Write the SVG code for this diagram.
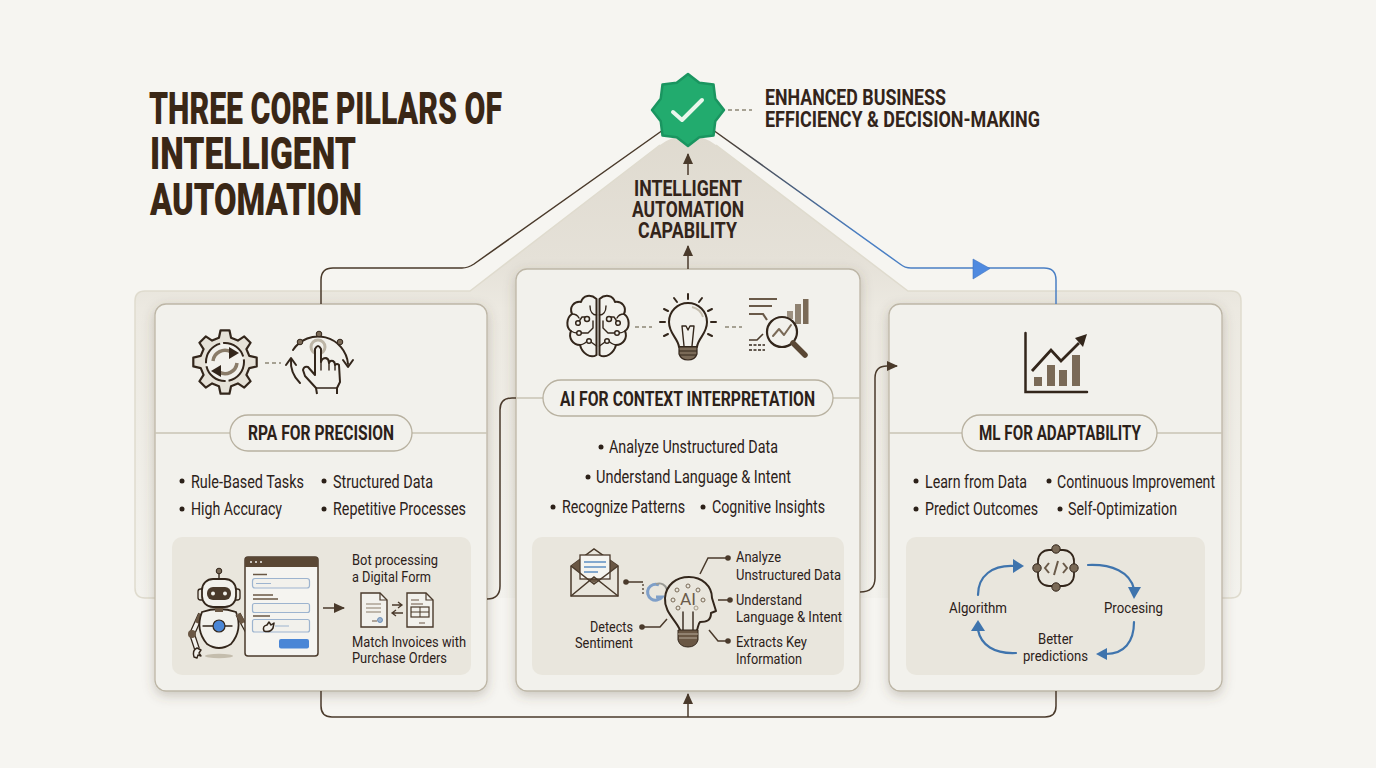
<svg xmlns="http://www.w3.org/2000/svg" width="1376" height="768" viewBox="0 0 1376 768">
<defs>
<style>
text{font-family:Roboto,"Liberation Sans",sans-serif;fill:#2c2119}
.title{font-size:45px;font-weight:900;fill:#3a2716}
.head{font-size:21.5px;font-weight:700;fill:#33241a}
.pill-t{font-size:19.500px;font-weight:700;fill:#2c2119}
.b{font-size:17.500px}
.s{font-size:15.500px}
.card{fill:#f2f1ec;stroke:#bdb6a6;stroke-width:1.3;filter:url(#sh)}
.panel{fill:#e9e6dd}
.pill{fill:#f2f1ec;stroke:#b8b1a0;stroke-width:1.3}
.div{stroke:#c9c3b4;stroke-width:1.3;fill:none}
.dot{fill:#2c2119}
.con{fill:none;stroke:#4a3a2b;stroke-width:1.5}
.ic{fill:none;stroke:#33261b;stroke-width:2;stroke-linecap:round;stroke-linejoin:round}
.ic1{fill:none;stroke:#33261b;stroke-width:1.4;stroke-linecap:round;stroke-linejoin:round}
.dash{fill:none;stroke:#8d8676;stroke-width:1.3;stroke-dasharray:4 3}
.bl{fill:none;stroke:#3f74ad;stroke-width:2.2;stroke-linecap:round}
.blh{fill:#3f74ad}
.br{fill:#7a6a57}
.nd{fill:#f2f1ec;stroke:#33261b;stroke-width:1.5}
</style>
<filter id="sh" x="-10%" y="-10%" width="120%" height="120%"><feDropShadow dx="0" dy="4" stdDeviation="6" flood-color="#5a4e3a" flood-opacity="0.28"/></filter>
<linearGradient id="plat" gradientUnits="userSpaceOnUse" x1="0" y1="130" x2="0" y2="600"><stop offset="0" stop-color="#dfdacf"/><stop offset="0.28" stop-color="#e5e1d8"/><stop offset="0.38" stop-color="#ecE9e1"/><stop offset="1" stop-color="#f3f2ed"/></linearGradient>
<linearGradient id="blueline" gradientUnits="userSpaceOnUse" x1="716" y1="0" x2="860" y2="0"><stop offset="0" stop-color="#4a3a2b"/><stop offset="1" stop-color="#4a7fc4"/></linearGradient>
<marker id="ah" markerWidth="12" markerHeight="14" refX="10" refY="5" orient="auto" markerUnits="userSpaceOnUse"><path d="M0,0L11,5L0,10Z" fill="#4a3a2b"/></marker>
</defs>
<rect width="1376" height="768" fill="#f6f5f1"/>
<g id="platform">
<path d="M145,291H470L660,145Q688,125 716,145L908,291H1231Q1241,291 1241,301V588Q1241,598 1231,598H145Q135,598 135,588V301Q135,291 145,291Z" fill="url(#plat)"/>
<path d="M155,598H145Q135,598 135,588V301Q135,291 145,291H470L660,145M716,145L908,291H1231Q1241,291 1241,301V588Q1241,598 1231,598H1222" fill="none" stroke="#dfdbce" stroke-width="1.500"/>
</g>
<g id="title">
<text class="title"><tspan x="149" y="123.500" textLength="353" lengthAdjust="spacingAndGlyphs">THREE CORE PILLARS OF</tspan><tspan x="150" y="169" textLength="206" lengthAdjust="spacingAndGlyphs">INTELLIGENT</tspan><tspan x="150" y="215" textLength="212" lengthAdjust="spacingAndGlyphs">AUTOMATION</tspan></text>
</g>
<g id="card-rpa">
<rect class="card" x="155" y="304" width="332" height="387" rx="11"/>
<path class="div" d="M155,433H230M412,433H487"/>
<rect class="pill" x="230" y="415" width="182" height="36" rx="18"/>
<text class="pill-t" x="248" y="440" textLength="146" lengthAdjust="spacingAndGlyphs">RPA FOR PRECISION</text>
<g transform="translate(225,362)">
<path d="M-6.050,-24.260L-4.450,-31.690L4.450,-31.690L6.050,-24.260L12.880,-21.430L19.260,-25.550L25.550,-19.260L21.430,-12.880L24.260,-6.050L31.690,-4.450L31.690,4.450L24.260,6.050L21.430,12.880L25.550,19.260L19.260,25.550L12.880,21.430L6.050,24.260L4.450,31.690L-4.450,31.690L-6.050,24.260L-12.880,21.430L-19.260,25.550L-25.550,19.260L-21.430,12.880L-24.260,6.050L-31.690,4.450L-31.690,-4.450L-24.260,-6.050L-21.430,-12.880L-25.550,-19.260L-19.260,-25.550L-12.880,-21.430Z" fill="#e6e2d8" stroke="#33261b" stroke-width="2.200" stroke-linejoin="round"/>
<circle r="19" fill="#f2f1ec" stroke="#33261b" stroke-width="2" stroke-dasharray="26 3"/>
<path d="M-12,-1A12,12 0 0 1 6,-10" fill="none" stroke="#8a7c69" stroke-width="3.500"/>
<path d="M4,-15L14,-9L4,-3Z" fill="#33261b"/>
<path d="M12,1A12,12 0 0 1 -6,10" fill="none" stroke="#8a7c69" stroke-width="3.500"/>
<path d="M-4,15L-14,9L-4,3Z" fill="#33261b"/>
</g>
<path class="dash" d="M265,363H281"/>
<g>
<path class="ic" d="M293,350A30,30 0 0 1 348,364"/>
<path class="ic" d="M343,360L348,367L353,360"/>
<path class="ic" d="M300,383A30,30 0 0 1 291,359"/>
<path class="ic" d="M286,365L291,358L296,365"/>
<circle cx="300" cy="342" r="2.800" fill="#7a6a57" stroke="#33261b"/>
<circle cx="319" cy="334" r="2.800" fill="#7a6a57" stroke="#33261b"/>
<circle cx="340" cy="342" r="2.800" fill="#7a6a57" stroke="#33261b"/>
<circle cx="318" cy="347" r="7" fill="none" stroke="#bdb5a6" stroke-width="3"/>
<path d="M317,394L316,388L305,376L303,370Q304,366 308,367L315,375V349Q318,343 321,349V362Q322,358 326,358Q329,359 329,363Q330,360 333,361Q335,362 335,365Q337,363 339,365L340,382L337,388V394" fill="#f2f1ec" stroke="#33261b" stroke-width="2" stroke-linejoin="round"/>
<path class="ic1" d="M316,388H337M321,362V370M329,363V370M335,365V370"/>
</g>
<g>
<circle class="dot" cx="182" cy="481" r="2.500"/><text class="b" x="191" y="488" textLength="113" lengthAdjust="spacingAndGlyphs">Rule-Based Tasks</text>
<circle class="dot" cx="324" cy="481" r="2.500"/><text class="b" x="333" y="488" textLength="100" lengthAdjust="spacingAndGlyphs">Structured Data</text>
<circle class="dot" cx="182" cy="509" r="2.500"/><text class="b" x="191" y="515" textLength="91" lengthAdjust="spacingAndGlyphs">High Accuracy</text>
<circle class="dot" cx="324" cy="509" r="2.500"/><text class="b" x="333" y="515" textLength="133" lengthAdjust="spacingAndGlyphs">Repetitive Processes</text>
</g>
<rect class="panel" x="172" y="537" width="299" height="138" rx="10"/>
<g id="robot">
<ellipse cx="219" cy="656" rx="14" ry="2.200" fill="#c4bdad"/>
<path d="M201,614L192,634L197,649" fill="none" stroke="#33261b" stroke-width="6" stroke-linejoin="round"/>
<path d="M201,614L192,634L197,649" fill="none" stroke="#f2f1ec" stroke-width="3.500" stroke-linejoin="round"/>
<path d="M201,614L197,623" stroke="#6a5744" stroke-width="5"/>
<path d="M202,612Q219,606 236,612Q243,630 231,644Q219,652 207,644Q195,630 202,612Z" fill="#f2f1ec" stroke="#33261b" stroke-width="1.800"/>
<path class="ic1" d="M203,626H232"/>
<circle cx="219" cy="626" r="6" fill="#4a86d6" stroke="#33261b" stroke-width="1.200"/>
<path d="M238,614L250,636L267,629" fill="none" stroke="#33261b" stroke-width="5.500" stroke-linejoin="round"/>
<path d="M238,614L250,636L267,629" fill="none" stroke="#f2f1ec" stroke-width="3" stroke-linejoin="round"/>
<path d="M238,614L243,623" stroke="#6a5744" stroke-width="5"/>
<circle cx="250" cy="636" r="3.500" fill="#6a5744"/>
<circle cx="192" cy="634" r="4" fill="#6a5744"/>
<path d="M194,657Q192,650 197,648L201,650L199,653L201,656L198,655L197,658Z" fill="#f2f1ec" stroke="#33261b" stroke-width="1.400" stroke-linejoin="round"/>
<rect x="215" y="607" width="8" height="5" fill="#6a5744"/>
<path class="ic1" d="M219,579V574"/><circle cx="219" cy="571" r="2.800" fill="#7a6a57" stroke="#33261b"/>
<rect x="198" y="589" width="6" height="11" rx="2.500" fill="#e9e6dd" stroke="#33261b" stroke-width="1.300"/>
<rect x="234" y="589" width="6" height="11" rx="2.500" fill="#e9e6dd" stroke="#33261b" stroke-width="1.300"/>
<rect x="202" y="579" width="34" height="28" rx="11" fill="#f2f1ec" stroke="#33261b" stroke-width="1.800"/>
<rect x="207" y="587" width="24" height="13" rx="6" fill="#4a3a2b"/>
<circle cx="213" cy="593.500" r="2" fill="#f2f1ec"/><circle cx="225" cy="593.500" r="2" fill="#f2f1ec"/>
</g>
<g id="form">
<rect x="245" y="557" width="73" height="99" rx="3" fill="#f5f4f0" stroke="#4a3a2b" stroke-width="1.500"/>
<path d="M245,567V560Q245,557 248,557H315Q318,557 318,560V567Z" fill="#5a4734"/>
<circle cx="251" cy="562" r="1" fill="#f2f1ec"/><circle cx="256" cy="562" r="1" fill="#f2f1ec"/><circle cx="261" cy="562" r="1" fill="#f2f1ec"/>
<path d="M253,574.500H267M253,595H273M253,599H278M253,616H270" stroke="#6a5744" stroke-width="1.300" fill="none"/>
<rect x="252.500" y="578.500" width="57" height="9.500" rx="2.500" fill="#f2f1ec" stroke="#9db4cf" stroke-width="1.200"/>
<path d="M256,583.500H271" stroke="#9db4cf" stroke-width="1"/>
<rect x="252.500" y="603.500" width="57" height="9" rx="2" fill="#f2f1ec" stroke="#9db4cf" stroke-width="1.200"/>
<rect x="252.500" y="619.500" width="57" height="12.500" rx="2" fill="#f2f1ec" stroke="#9db4cf" stroke-width="1.200"/>
<path d="M275,626H289" stroke="#9db4cf" stroke-width="1"/>
<rect x="279" y="639" width="30" height="9.500" rx="2" fill="#4a86d6"/>
<path d="M264,631Q262,626 267,625L269,622L271,625L274,623L273,628Q270,633 264,631Z" fill="#f2f1ec" stroke="#33261b" stroke-width="1.500" stroke-linejoin="round"/>
</g>
<path class="con" d="M323,608H344" marker-end="url(#ah)"/>
<g>
<path d="M361,593H380L387,600V627H361Z" fill="#f2f1ec" stroke="#4a3a2b" stroke-width="1.400"/>
<path d="M380,593V600H387" fill="none" stroke="#4a3a2b" stroke-width="1.200"/>
<path d="M366,604H381M366,608H381M366,612H381" stroke="#8a7c69" stroke-width="1.200"/>
<path d="M372,621H377" stroke="#6a5744" stroke-width="1"/><circle cx="380" cy="620" r="2.500" fill="#9db4cf" stroke="#5a82b0" stroke-width=".8"/>
<path d="M407,593H426L433,600V627H407Z" fill="#f2f1ec" stroke="#4a3a2b" stroke-width="1.400"/>
<path d="M426,593V600H433" fill="none" stroke="#4a3a2b" stroke-width="1.200"/>
<path d="M411,600H419M411,604H423M425,623H419" stroke="#6a5744" stroke-width="1.200"/>
<rect x="411" y="607" width="18" height="10" fill="none" stroke="#4a3a2b" stroke-width="1.200"/>
<path d="M411,612H429M420,607V617" stroke="#4a3a2b" stroke-width="1"/>
<path d="M392,605H401M398,602L402,605L398,608M403,613H393M396,610L392,613L396,616" fill="none" stroke="#4a3a2b" stroke-width="1.300"/>
</g>
<text class="s"><tspan x="352" y="565" textLength="86" lengthAdjust="spacingAndGlyphs">Bot processing</tspan><tspan x="352" y="582" textLength="79" lengthAdjust="spacingAndGlyphs">a Digital Form</tspan></text>
<text class="s"><tspan x="352" y="647" textLength="114" lengthAdjust="spacingAndGlyphs">Match Invoices with</tspan><tspan x="352" y="663" textLength="95" lengthAdjust="spacingAndGlyphs">Purchase Orders</tspan></text>
</g>
<g id="card-ai">
<rect class="card" x="516" y="269" width="344" height="422" rx="11"/>
<path class="div" d="M516,398H543M833,398H860"/>
<rect class="pill" x="543" y="380" width="290" height="36" rx="18"/>
<text class="pill-t" x="560" y="406" textLength="255" lengthAdjust="spacingAndGlyphs">AI FOR CONTEXT INTERPRETATION</text>
<g id="brain" transform="translate(598,327)">
<path class="ic" d="M-1.500,-28C-7,-33 -15,-32 -17,-25C-24,-26 -29,-20 -26,-13C-32,-9 -32,1 -27,4C-30,11 -25,18 -18,18C-16,26 -8,32 -1.500,28V-28"/>
<path class="ic1" d="M-1.500,-12C-5,-12 -8,-15 -8,-21M-26,-13C-22,-13 -20,-11 -19,-9M-20,-4L-16,-10H-11M-19,6H-10L-5,1V-6M-27,4C-24,6 -22,6 -21,6M-18,18C-14,17 -12,16 -11,14M-7,15L-1.500,19"/>
<circle class="nd" cx="-11" cy="-8" r="2.500"/><circle class="nd" cx="-20" cy="-4" r="2.300"/><circle class="nd" cx="-19" cy="6" r="2.300"/><circle class="nd" cx="-9" cy="14" r="2.300"/>
<g transform="scale(-1,1)">
<path class="ic" d="M-1.500,-28C-7,-33 -15,-32 -17,-25C-24,-26 -29,-20 -26,-13C-32,-9 -32,1 -27,4C-30,11 -25,18 -18,18C-16,26 -8,32 -1.500,28V-28"/>
<path class="ic1" d="M-1.500,-12C-5,-12 -8,-15 -8,-21M-26,-13C-22,-13 -20,-11 -19,-9M-20,-4L-16,-10H-11M-19,6H-10L-5,1V-6M-27,4C-24,6 -22,6 -21,6M-18,18C-14,17 -12,16 -11,14M-7,15L-1.500,19"/>
<circle class="nd" cx="-11" cy="-8" r="2.500"/><circle class="nd" cx="-20" cy="-4" r="2.300"/><circle class="nd" cx="-19" cy="6" r="2.300"/><circle class="nd" cx="-9" cy="14" r="2.300"/>
</g>
</g>
<path class="dash" d="M635,327H652M725,327H742"/>
<g id="bulb">
<path class="ic" d="M679,347C678,338 669,334 669,322A19,19 0 0 1 707,322C707,334 698,338 697,347Z"/>
<path class="ic1" d="M684,346L682,326H686L688,330L690,326H694L692,346" stroke-width="1.800"/>
<path d="M692,307A15,15 0 0 1 703,317" fill="none" stroke="#c4bdad" stroke-width="1.800"/>
<path d="M679,347H697V354Q695,360 688,360Q681,360 679,354Z" fill="#7a6a57" stroke="#33261b" stroke-width="1.200"/>
<path d="M679,351H697M680,355H696" stroke="#33261b" stroke-width="1"/>
<path class="ic" d="M688,294V299M674,298L677,302M702,298L699,302M664,309L668,311M712,309L708,311M660,322H665M711,322H716M664,336L668,334M712,336L708,334"/>
</g>
<g id="analysis">
<path d="M749,299H777M749,306H772M749,314H763L767,320" fill="none" stroke="#6a5a49" stroke-width="2.200"/>
<path d="M749,340H757L763,334" fill="none" stroke="#4a3a2b" stroke-width="1.600"/>
<path d="M749,345H765M749,350H765" fill="none" stroke="#33261b" stroke-width="1.500" stroke-dasharray="3 1.500"/>
<rect x="787" y="311" width="6" height="8" fill="#9d9181"/>
<rect x="795" y="304" width="6" height="20" fill="#8f8271"/>
<rect x="803" y="299" width="5.500" height="25" fill="#7a6a57"/>
<circle cx="782" cy="332" r="15" fill="#f2f1ec" stroke="#33261b" stroke-width="2.200"/>
<path class="ic" d="M773,336L779,329L784,335L791,325" style="stroke:#7a6a57"/>
<path d="M793,343L805,355" stroke="#5a4734" stroke-width="5.500" stroke-linecap="round"/>
</g>
<g>
<circle class="dot" cx="601" cy="447" r="2.500"/><text class="b" x="609" y="453" textLength="169" lengthAdjust="spacingAndGlyphs">Analyze Unstructured Data</text>
<circle class="dot" cx="588" cy="477" r="2.500"/><text class="b" x="596" y="483" textLength="195" lengthAdjust="spacingAndGlyphs">Understand Language &amp; Intent</text>
<circle class="dot" cx="553" cy="507" r="2.500"/><text class="b" x="562" y="513" textLength="123" lengthAdjust="spacingAndGlyphs">Recognize Patterns</text>
<circle class="dot" cx="703" cy="507" r="2.500"/><text class="b" x="712" y="513" textLength="113" lengthAdjust="spacingAndGlyphs">Cognitive Insights</text>
</g>
<rect class="panel" x="532" y="537" width="312" height="138" rx="10"/>
<g id="envelope">
<path d="M571,566L594,549L618,566V596H571Z" fill="#e9e6dd" stroke="#4a3a2b" stroke-width="1.500"/>
<path d="M571,566L583,557H606L618,566L594,583Z" fill="#6a5744"/>
<rect x="580" y="555" width="30" height="24" fill="#f5f4f0" stroke="#4a3a2b" stroke-width="1.300"/>
<path d="M584,562H606M584,567H606M584,572H598" stroke="#5f8fc2" stroke-width="1.500"/>
<path d="M571,596L594,577L618,596M571,566L594,584L618,566" fill="none" stroke="#4a3a2b" stroke-width="1.500"/>
</g>
<path d="M659,585A8,8 0 1 0 662,597H656" fill="none" stroke="#7f9fc8" stroke-width="3"/>
<path d="M656,584A8,8 0 0 1 667,590" fill="none" stroke="#9a9a94" stroke-width="1.800"/>
<g id="ai-head">
<path class="ic" d="M680,630C676,620 664,612 665,598C666,585 676,577 689,577C702,577 712,586 712,598L716,611L711,613C711,621 706,622 700,622C698,624 698,628 697,630"/>
<path class="ic1" d="M683,630V612M693,630V612" stroke-width="1.800"/>
<path d="M678,630H698V640Q696,647 688,647Q680,647 678,640Z" fill="#6a5744" stroke="#33261b"/>
<path d="M678,634H698M679,638H697" stroke="#b8ad9c" stroke-width="1"/>
<text x="680" y="605" font-size="16" textLength="16" lengthAdjust="spacingAndGlyphs" style="fill:#6a5a49">AI</text>
<circle cx="677" cy="590" r="2" fill="none" stroke="#7a6a57"/><circle cx="688" cy="586" r="2" fill="none" stroke="#7a6a57"/><circle cx="698" cy="590" r="2" fill="none" stroke="#7a6a57"/><circle cx="703" cy="600" r="2" fill="none" stroke="#7a6a57"/><circle cx="678" cy="608" r="2" fill="none" stroke="#7a6a57"/><circle cx="696" cy="608" r="2" fill="none" stroke="#a59a89"/><circle cx="673" cy="600" r="2" fill="none" stroke="#7a6a57"/>
</g>
<g>
<path class="con" d="M700,574L708,558H727M718,600H730M709,630L718,641H728M642,627H660L667,619M626,582H643"/>
<path d="M643,584V596" stroke="#4a3a2b" stroke-width="1.300" stroke-dasharray="2 2"/>
<circle cx="728" cy="558" r="2.800" fill="#4a3a2b"/><circle cx="730" cy="600" r="2.800" fill="#4a3a2b"/><circle cx="728" cy="641" r="2.800" fill="#4a3a2b"/><circle cx="642" cy="627" r="2.800" fill="#4a3a2b"/><circle cx="626" cy="582" r="2.800" fill="#4a3a2b"/>
</g>
<text class="s"><tspan x="736" y="562" textLength="45" lengthAdjust="spacingAndGlyphs">Analyze</tspan><tspan x="736" y="580" textLength="105" lengthAdjust="spacingAndGlyphs">Unstructured Data</tspan></text>
<text class="s"><tspan x="736" y="605" textLength="66" lengthAdjust="spacingAndGlyphs">Understand</tspan><tspan x="736" y="622" textLength="106" lengthAdjust="spacingAndGlyphs">Language &amp; Intent</tspan></text>
<text class="s"><tspan x="736" y="647" textLength="71" lengthAdjust="spacingAndGlyphs">Extracts Key</tspan><tspan x="736" y="664" textLength="66" lengthAdjust="spacingAndGlyphs">Information</tspan></text>
<text class="s"><tspan x="590" y="632" textLength="43" lengthAdjust="spacingAndGlyphs">Detects</tspan><tspan x="575" y="648" textLength="58" lengthAdjust="spacingAndGlyphs">Sentiment</tspan></text>
</g>
<g id="card-ml">
<rect class="card" x="889" y="304" width="333" height="387" rx="11"/>
<path class="div" d="M889,433H962M1157,433H1222"/>
<rect class="pill" x="962" y="415" width="195" height="36" rx="18"/>
<text class="pill-t" x="979" y="440" textLength="162" lengthAdjust="spacingAndGlyphs">ML FOR ADAPTABILITY</text>
<g id="growth">
<rect class="br" x="1034" y="377" width="8" height="9"/>
<rect class="br" x="1047" y="365" width="8" height="21"/>
<rect class="br" x="1059" y="370" width="8" height="16"/>
<rect class="br" x="1072" y="355" width="8" height="31"/>
<path d="M1025.500,333V392H1087" fill="none" stroke="#33261b" stroke-width="2.500" stroke-linecap="round"/>
<path d="M1032,371L1051,350L1061,361L1079,343" fill="none" stroke="#33261b" stroke-width="2.800"/>
<path d="M1087,334L1075,338L1083,347Z" fill="#33261b"/>
</g>
<g>
<circle class="dot" cx="916" cy="481" r="2.500"/><text class="b" x="925" y="488" textLength="102" lengthAdjust="spacingAndGlyphs">Learn from Data</text>
<circle class="dot" cx="1049" cy="481" r="2.500"/><text class="b" x="1057" y="488" textLength="158" lengthAdjust="spacingAndGlyphs">Continuous Improvement</text>
<circle class="dot" cx="916" cy="509" r="2.500"/><text class="b" x="925" y="515" textLength="113" lengthAdjust="spacingAndGlyphs">Predict Outcomes</text>
<circle class="dot" cx="1060" cy="509" r="2.500"/><text class="b" x="1068" y="515" textLength="109" lengthAdjust="spacingAndGlyphs">Self-Optimization</text>
</g>
<rect class="panel" x="906" y="537" width="299" height="138" rx="10"/>
<g id="code">
<rect x="1038" y="550" width="36" height="36" rx="11" fill="none" stroke="#33261b" stroke-width="1.800"/>
<circle cx="1056" cy="549" r="4.200" fill="#7a6a57" stroke="#33261b"/><circle cx="1037" cy="568" r="4.200" fill="#7a6a57" stroke="#33261b"/><circle cx="1074" cy="568" r="4.200" fill="#7a6a57" stroke="#33261b"/><circle cx="1056" cy="587" r="4.200" fill="#7a6a57" stroke="#33261b"/>
<path d="M1049,563L1045,568L1049,573M1063,563L1067,568L1063,573M1058,561L1054,575" fill="none" stroke="#6a5a49" stroke-width="2"/>
</g>
<g id="cycle">
<path class="bl" d="M978,595C978,576 992,565 1014,566"/><path class="blh" d="M1024,566L1013,559V573Z"/>
<path class="bl" d="M1088,565C1112,564 1130,572 1134,589"/><path class="blh" d="M1134,599L1141,587H1128Z"/>
<path class="bl" d="M1134,622C1134,642 1124,654 1106,654"/><path class="blh" d="M1096,654L1107,648V660Z"/>
<path class="bl" d="M1016,653C994,654 981,645 978,630"/><path class="blh" d="M978,620L971,631H985Z"/>
</g>
<text class="s" x="949" y="613" textLength="58" lengthAdjust="spacingAndGlyphs">Algorithm</text>
<text class="s" x="1104" y="613" textLength="59" lengthAdjust="spacingAndGlyphs">Procesing</text>
<text class="s"><tspan x="1038" y="644" textLength="35" lengthAdjust="spacingAndGlyphs">Better</tspan><tspan x="1023" y="661" textLength="65" lengthAdjust="spacingAndGlyphs">predictions</tspan></text>
</g>
<g id="connectors">
<path class="con" d="M321,304V280Q321,268 333,268H462Q468,268 474,264L663,130"/>
<path d="M713,130L900,264Q905,268 911,268H1044Q1056,268 1056,280V304" fill="none" stroke="url(#blueline)" stroke-width="1.500"/>
<path d="M973,259L990,268.500L973,279Z" fill="#4f8ae0" stroke="#3f74c0" stroke-width=".6"/>
<path class="con" d="M688,269V246" marker-end="url(#ah)"/>
<path class="con" d="M688,175V154" marker-end="url(#ah)"/>
<path class="con" d="M321,691V706Q321,717 332,717H1045Q1056,717 1056,706V691"/>
<path class="con" d="M688,717V694" marker-end="url(#ah)"/>
<path class="con" d="M487,599Q500,599 500,586V410Q500,398 512,398H516"/>
<path class="con" d="M860,592Q875,592 875,578V378Q875,366 887,366H897" marker-end="url(#ah)"/>
<path class="dash" d="M728,110H752"/>
</g>
<g id="badge">
<path d="M688,74L699.300,82.750L713.500,84.500L715.250,98.700L724,110L715.250,121.300L713.500,135.500L699.300,137.250L688,146L676.700,137.250L662.500,135.500L660.750,121.300L652,110L660.750,98.700L662.500,84.500L676.700,82.750Z" fill="#22ab6e" stroke="#1a9560" stroke-width="2.500" stroke-linejoin="round"/>
<path d="M673,112L682,120L702,100" fill="none" stroke="#e9f6ec" stroke-width="4" stroke-linecap="round" stroke-linejoin="round"/>
</g>
<g id="labels">
<text class="head"><tspan x="765" y="105" textLength="181" lengthAdjust="spacingAndGlyphs">ENHANCED BUSINESS</tspan><tspan x="765" y="127" textLength="275" lengthAdjust="spacingAndGlyphs">EFFICIENCY &amp; DECISION-MAKING</tspan></text>
<text class="head"><tspan x="634" y="196" textLength="108" lengthAdjust="spacingAndGlyphs">INTELLIGENT</tspan><tspan x="632" y="217" textLength="112" lengthAdjust="spacingAndGlyphs">AUTOMATION</tspan><tspan x="638" y="238" textLength="99" lengthAdjust="spacingAndGlyphs">CAPABILITY</tspan></text>
</g>
</svg>
